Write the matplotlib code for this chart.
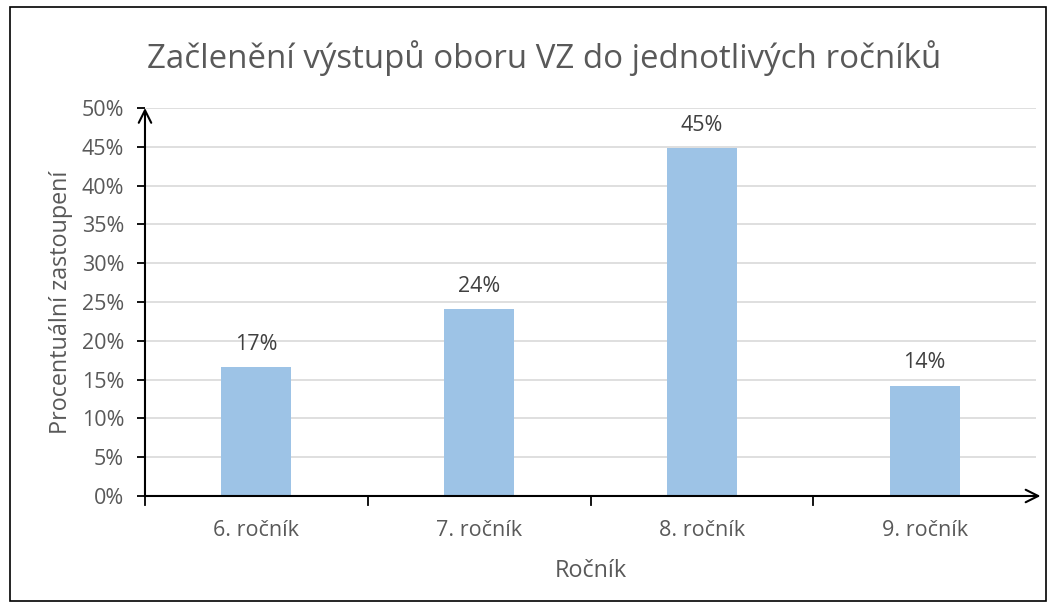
import matplotlib
matplotlib.use("Agg")
import matplotlib.pyplot as plt
from matplotlib.patches import Rectangle
import numpy as np

# data
rocniky = ["6. ročník", "7. ročník", "8. ročník", "9. ročník"]
podil = [16.6, 24.1, 44.8, 14.2]
popisky = ["17%", "24%", "45%", "14%"]
y_ticks = [0, 5, 10, 15, 20, 25, 30, 35, 40, 45, 50]

plt.rcParams['font.family'] = ['Open Sans', 'DejaVu Sans']
seda = '#595959'

fig = plt.figure(figsize=(10.56, 6.10), dpi=100)
ax = fig.add_axes([0.1373, 0.1869, 0.8438, 0.6361])

x = np.arange(len(rocniky))
ax.bar(x, podil, width=0.315, color='#9DC3E6', zorder=2)

for xi, v, t in zip(x, podil, popisky):
    ax.text(xi, v + 1.6, t, ha='center', va='bottom', fontsize=15.5, color='#404040')

ax.set_xlim(-0.5, len(rocniky) - 0.5)
ax.set_ylim(0, 50)
ax.set_yticks(y_ticks)
ax.set_yticklabels([f"{t}%" for t in y_ticks], fontsize=15.5, color=seda)
ax.set_xticks(x)
ax.set_xticklabels(rocniky, fontsize=15.5, color=seda)
ax.tick_params(axis='x', length=0, pad=17)
ax.tick_params(axis='y', length=6, width=1.3, color='black', pad=9)
# x ticks between categories
for b in np.arange(-0.5, len(rocniky) - 0.4, 1.0)[:-1]:
    ax.plot([b, b], [0, -1.2], color='black', lw=1.3, clip_on=False, zorder=3)

ax.grid(axis='y', color='#D9D9D9', lw=1.2, zorder=0)
for s in ax.spines.values():
    s.set_visible(False)

# axes with arrows
ax.annotate('', xy=(0, 1.0), xytext=(0, 0), xycoords='axes fraction',
            arrowprops=dict(arrowstyle='->,head_length=0.9,head_width=0.45', lw=1.5, color='black',
                            shrinkA=0, shrinkB=0))
ax.annotate('', xy=(1.005, 0), xytext=(0, 0), xycoords='axes fraction',
            arrowprops=dict(arrowstyle='->,head_length=0.9,head_width=0.45', lw=1.5, color='black',
                            shrinkA=0, shrinkB=0))

ax.set_xlabel("Ročník", fontsize=16.8, color=seda, labelpad=13)
ax.set_ylabel("Procentuální zastoupení", fontsize=16.8, color=seda, labelpad=6)

fig.text(0.5155, 0.905, "Začlenění výstupů oboru VZ do jednotlivých ročníků",
         ha='center', va='center', fontsize=23.8, color=seda)

fig.patches.append(Rectangle((0.0095, 0.015), 0.981, 0.973, transform=fig.transFigure,
                             fill=False, edgecolor='black', lw=1.2))

fig.savefig("out.png", dpi=100)
